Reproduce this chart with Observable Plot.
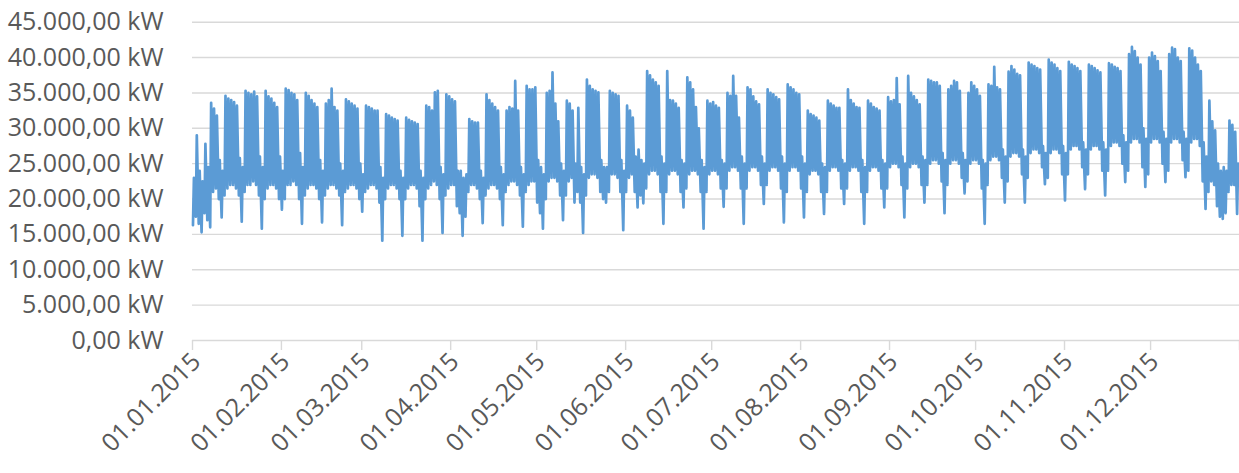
<!DOCTYPE html>
<html>
<head>
<meta charset="utf-8">
<script src="https://cdn.jsdelivr.net/npm/d3@7"></script>
<script src="https://cdn.jsdelivr.net/npm/@observablehq/plot@0.6"></script>
<style>
  html, body { margin: 0; padding: 0; background: #ffffff; }
</style>
</head>
<body>
<div id="chart"></div>
<script>
// Daily load in thousand kW (2015-01-01 .. 2015-12-31)
// dailyPeak: daytime maximum, dailyTrough: night-time minimum
const dailyPeak = [
  23.0, 29.0, 24.0, 22.5,
  27.8, 24.5, 33.6, 32.8, 31.8, 25.5, 24.0,
  34.6, 34.2, 34.0, 33.7, 33.2, 25.8, 24.5,
  35.3, 35.0, 34.8, 35.2, 34.5, 26.0, 24.5,
  35.3, 34.5, 34.2, 33.6, 33.0, 26.0, 24.0,
  35.6, 35.4, 35.0, 34.8, 34.0, 26.5, 24.5,
  35.0, 34.6, 34.0, 33.5, 33.0, 25.5, 24.0,
  33.5, 34.0, 35.6, 33.0, 32.5, 25.0, 24.0,
  34.1, 33.8, 33.5, 33.2, 32.8, 25.0, 23.5,
  33.2, 33.0, 32.8, 32.5, 32.5, 24.5, 23.0,
  32.0, 31.8, 31.5, 31.3, 31.1, 24.0, 23.0,
  31.5, 31.2, 31.0, 30.8, 30.6, 24.0, 23.0,
  33.2, 33.0, 32.5, 35.1, 35.3, 24.5, 23.5,
  34.8, 34.5, 34.1, 33.8, 24.0, 24.0, 23.0,
  23.5, 31.3, 31.0, 30.8, 30.8, 24.0, 23.0,
  34.8, 34.0, 33.5, 33.0, 32.5, 24.5, 23.5,
  32.5, 33.0, 32.8, 36.7, 32.5, 24.5, 23.5,
  36.0, 35.5, 35.5, 35.8, 25.5, 24.5, 23.5,
  35.0, 35.3, 37.9, 33.5, 31.0, 25.0, 24.0,
  33.9, 33.5, 32.5, 25.0, 32.9, 24.5, 23.5,
  36.9, 36.0, 35.5, 35.3, 35.1, 25.5, 24.5,
  24.5, 35.3, 35.0, 34.8, 34.6, 25.5, 24.0,
  33.2, 32.5, 31.5, 26.0, 27.0, 25.5, 25.0,
  38.1, 37.5, 36.9, 36.5, 36.0, 26.0, 25.0,
  38.1, 34.0, 33.9, 33.5, 32.9, 25.5, 25.0,
  37.2, 36.5, 35.5, 33.0, 30.0, 25.5, 24.5,
  33.9, 33.5, 33.7, 33.2, 32.9, 25.5, 25.0,
  35.0, 34.6, 37.4, 34.6, 31.5, 26.0, 25.0,
  35.8, 35.5, 34.5, 33.8, 33.4, 26.0, 25.0,
  35.5, 35.0, 34.8, 34.4, 34.1, 26.0, 25.0,
  36.2, 35.8, 35.5, 35.0, 34.8, 26.0, 25.0,
  32.5, 32.0, 31.8, 31.5, 31.1, 25.0, 24.5,
  33.9, 33.5, 33.2, 32.9, 32.9, 25.5, 25.0,
  35.5, 34.0, 33.5, 33.0, 32.9, 25.5, 24.5,
  33.9, 33.5, 33.0, 32.8, 32.5, 25.5, 25.0,
  34.4, 33.8, 34.0, 37.1, 33.4, 26.0, 25.0,
  37.4, 35.0, 34.5, 34.0, 33.4, 26.0, 25.5,
  36.9, 36.7, 36.5, 36.5, 36.0, 26.5, 25.5,
  35.5, 36.0, 36.7, 36.5, 35.3, 26.5, 25.5,
  35.0, 36.5, 36.0, 35.5, 34.6, 25.5, 25.0,
  36.2, 36.0, 38.7, 35.8, 35.5, 27.0, 26.0,
  38.0, 38.8, 38.3, 37.7, 37.5, 27.0, 26.0,
  39.3, 39.0, 38.8, 38.5, 38.3, 27.5, 26.5,
  39.7, 39.3, 39.0, 38.5, 38.1, 27.5, 26.5,
  39.4, 39.0, 38.8, 38.5, 38.1, 28.0, 27.0,
  39.0, 38.8, 38.5, 38.2, 37.9, 28.0, 27.0,
  39.2, 39.0, 38.7, 38.5, 38.1, 29.0, 28.0,
  40.5, 41.5, 40.9, 40.0, 39.0, 30.0, 28.5,
  40.0, 40.7, 40.2, 39.5, 38.1, 29.5, 28.5,
  40.5, 41.4, 41.2, 40.0, 39.5, 29.5, 28.5,
  41.3, 41.0, 40.0, 39.0, 38.1, 28.0, 26.0,
  33.9, 31.0, 29.7, 25.0, 24.0, 24.5, 24.0,
  31.1, 30.5, 29.5, 25.0
];
const dailyTrough = [
  16.3, 17.5, 16.5, 15.3,
  18.0, 17.0, 16.0, 21.0, 21.5, 20.0, 17.4,
  20.5, 21.5, 22.0, 22.0, 21.5, 20.5, 16.8,
  21.0, 22.0, 22.0, 22.5, 22.0, 20.5, 15.8,
  20.0, 21.5, 22.0, 22.0, 21.5, 20.0, 18.5,
  20.0, 22.0, 22.0, 22.5, 22.0, 20.0, 16.5,
  20.5, 21.5, 22.0, 22.0, 21.5, 20.0, 16.7,
  20.5, 21.5, 22.0, 22.0, 21.5, 20.5, 16.3,
  21.0, 21.5, 22.0, 22.0, 21.5, 20.0, 18.2,
  21.0, 21.5, 22.0, 22.0, 21.5, 19.5, 14.1,
  20.0, 21.5, 22.0, 22.0, 21.5, 20.0, 14.8,
  20.0, 21.5, 22.0, 22.0, 21.5, 19.0, 14.1,
  20.0, 21.5, 22.0, 22.5, 22.0, 20.0, 15.2,
  20.5, 21.5, 22.0, 22.0, 19.0, 18.0, 14.8,
  17.5, 21.0, 22.0, 22.0, 21.5, 20.0, 16.6,
  20.5, 21.5, 22.0, 22.0, 21.5, 20.0, 16.3,
  21.0, 22.0, 22.5, 22.5, 22.0, 20.5, 16.1,
  21.0, 22.0, 22.5, 22.5, 19.5, 18.0, 15.8,
  20.0, 22.5, 23.0, 23.0, 22.5, 20.5, 17.0,
  20.5, 22.5, 23.0, 19.5, 21.0, 19.5, 15.2,
  20.5, 23.0, 23.5, 23.5, 23.0, 21.0, 20.0,
  19.5, 21.0, 23.5, 23.5, 23.0, 21.0, 15.6,
  21.0, 23.0, 23.5, 21.0, 18.8, 20.5, 19.4,
  21.5, 23.5, 24.0, 24.0, 23.5, 21.0, 16.5,
  21.0, 23.5, 24.0, 24.0, 23.5, 21.0, 18.8,
  21.5, 23.5, 24.0, 24.0, 23.5, 21.0, 15.8,
  21.0, 23.5, 24.0, 24.0, 23.5, 21.5, 18.9,
  21.5, 24.0, 24.5, 24.5, 24.0, 21.5, 16.5,
  21.5, 24.0, 24.5, 24.5, 24.0, 22.0, 19.3,
  22.0, 24.0, 24.5, 24.5, 24.0, 21.5, 16.7,
  21.0, 24.0, 24.5, 24.5, 24.0, 21.5, 17.4,
  21.0, 23.5, 24.0, 24.0, 23.5, 21.0, 17.9,
  21.0, 24.0, 24.5, 24.5, 24.0, 21.5, 19.3,
  21.5, 24.0, 24.5, 24.5, 24.0, 21.0, 16.5,
  21.0, 24.0, 24.5, 24.5, 24.0, 21.5, 18.8,
  21.5, 24.5, 25.0, 25.0, 24.5, 22.0, 17.4,
  21.5, 24.5, 25.0, 25.0, 24.5, 22.0, 19.5,
  22.0, 25.0, 25.5, 25.5, 25.0, 22.5, 18.0,
  22.0, 25.0, 25.5, 25.5, 25.0, 23.0, 20.8,
  22.5, 25.0, 25.5, 25.5, 25.0, 21.5, 16.5,
  22.0, 25.5, 26.0, 26.0, 25.5, 23.0, 19.5,
  22.5, 26.0, 26.5, 26.5, 26.0, 23.5, 19.5,
  23.0, 26.5, 27.0, 27.0, 26.5, 24.5, 22.1,
  23.0, 26.5, 27.0, 27.0, 26.5, 23.5, 19.8,
  23.5, 27.0, 27.5, 27.5, 27.0, 24.5, 21.4,
  23.5, 27.0, 27.5, 27.5, 27.0, 24.0, 20.5,
  24.0, 27.5, 28.0, 28.0, 27.5, 25.0, 22.4,
  24.0, 28.0, 28.5, 28.5, 28.0, 24.5, 21.7,
  23.5, 28.0, 28.5, 28.5, 28.0, 25.0, 22.4,
  24.0, 28.0, 28.5, 28.5, 28.0, 25.5, 23.1,
  24.0, 28.0, 28.5, 28.5, 27.5, 22.5, 18.6,
  21.0, 22.5, 22.0, 19.0, 17.5, 17.2, 18.0,
  21.0, 22.0, 22.0, 17.9
];
const yTicks = [0, 5000, 10000, 15000, 20000, 25000, 30000, 35000, 40000, 45000];
const monthTicks = ["2015-01-01","2015-02-01","2015-03-01","2015-04-01","2015-05-01","2015-06-01",
  "2015-07-01","2015-08-01","2015-09-01","2015-10-01","2015-11-01","2015-12-01","2016-01-01"];

// Build line table: trough at 04:00, peak at 12:00 each day
const t0 = Date.UTC(2015, 0, 1);
const series = [];
dailyPeak.forEach((p, i) => {
  series.push({date: new Date(t0 + i * 864e5 + 4 * 36e5), kw: dailyTrough[i] * 1000});
  series.push({date: new Date(t0 + i * 864e5 + 12 * 36e5), kw: p * 1000});
});

const de = d3.formatLocale({decimal: ",", thousands: ".", grouping: [3], currency: ["", " €"]});
const fmt = de.format(",.2f");
const dateFmt = d3.utcFormat("%d.%m.%Y");
const tickDates = monthTicks.map(s => new Date(s + "T00:00:00Z"));
const labelDates = tickDates.slice(0, 12);

const chart = Plot.plot({
  width: 1239,
  height: 473,
  marginLeft: 192,
  marginRight: 0,
  marginTop: 21.7,
  marginBottom: 133,
  style: {fontFamily: "'Open Sans', sans-serif", fontSize: "25px", color: "#595959", background: "#ffffff"},
  x: {type: "utc", domain: [tickDates[0], tickDates[12]]},
  y: {domain: [0, 45000]},
  marks: [
    Plot.gridY(yTicks, {stroke: "#d9d9d9", strokeOpacity: 1, strokeWidth: 1.4}),
    Plot.axisY(yTicks, {tickSize: 0, tickPadding: 29, tickFormat: d => fmt(d) + " kW",
      fill: "#595959", fontSize: 25, label: null}),
    Plot.axisX(tickDates, {tickSize: 10, tickFormat: () => "",
      stroke: "#d9d9d9", strokeWidth: 1.4, label: null}),
    Plot.text(labelDates, {x: d => d, y: () => 0, text: d => dateFmt(d), rotate: -45,
      textAnchor: "end", lineAnchor: "middle", dx: 4, dy: 17,
      fill: "#595959", fontSize: 25, clip: false}),
    Plot.lineY(series, {x: "date", y: "kw", stroke: "#5b9bd5", strokeWidth: 2.7, strokeLinejoin: "round"})
  ]
});
document.getElementById("chart").appendChild(chart);
</script>
</body>
</html>
